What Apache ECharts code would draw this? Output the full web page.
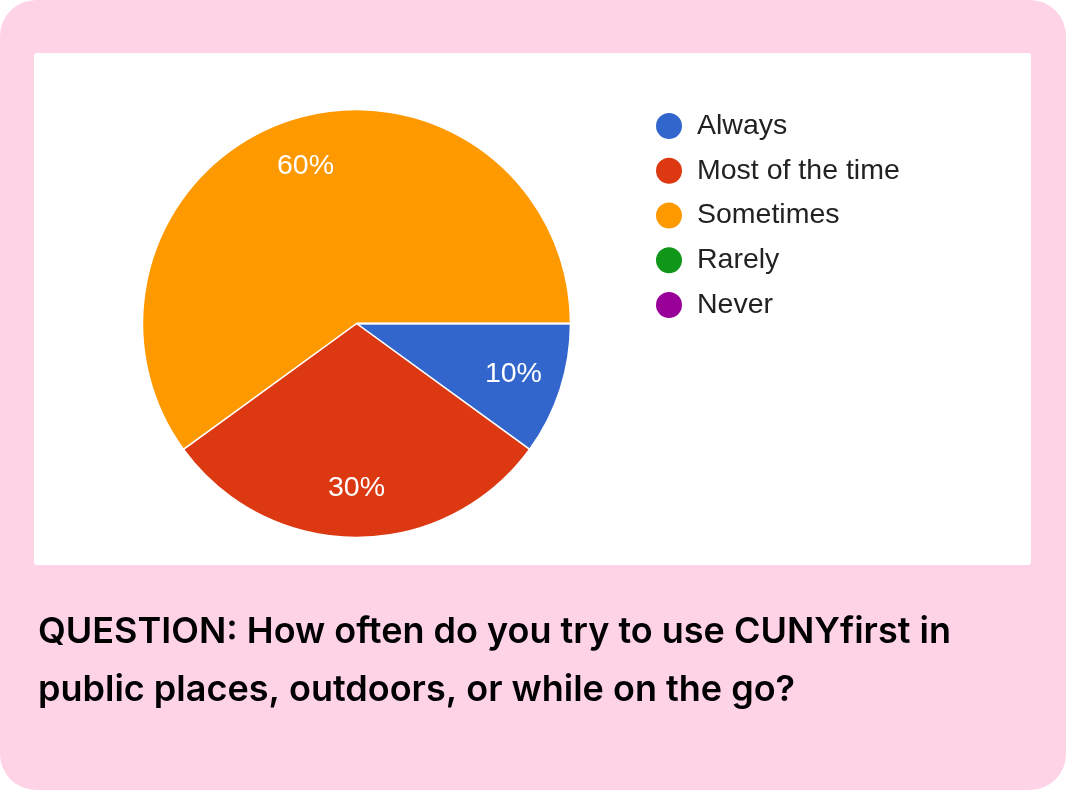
<!DOCTYPE html>
<html>
<head>
<meta charset="utf-8">
<script src="https://cdn.jsdelivr.net/npm/echarts@6/dist/echarts.min.js"></script>
<style>
html,body{margin:0;padding:0;background:#fff;}
#chart{width:1066px;height:790px;}
</style>
</head>
<body>
<div id="chart"></div>
<script>
const categories = ['Always', 'Most of the time', 'Sometimes', 'Rarely', 'Never'];
const shares = [10, 30, 60, 0, 0];
const colors = ['#3366CC', '#DC3912', '#FF9900', '#109618', '#990099'];
const questionLines = [
  'QUESTION: How often do you try to use CUNYfirst in',
  'public places, outdoors, or while on the go?'
];

const pieData = categories.map((name, i) => ({ name: name, value: shares[i], itemStyle: { color: colors[i] } }));
const labelData = categories.map((name, i) => ({ name: name, value: shares[i] }));

const chart = echarts.init(document.getElementById('chart'), null, { renderer: 'canvas' });
chart.setOption({
  animation: false,
  backgroundColor: '#ffffff',
  graphic: [
    { type: 'rect', z: -10, shape: { x: 0, y: 0, width: 1066, height: 790, r: 36 }, style: { fill: '#FFD3E6' } },
    { type: 'rect', z: -9, shape: { x: 34, y: 53, width: 997, height: 512, r: 3 }, style: { fill: '#FFFFFF' } },
    { type: 'text', left: 38, top: 614, style: { text: questionLines[0], fill: '#000000', font: '600 36px Inter' } },
    { type: 'text', left: 38, top: 672, style: { text: questionLines[1], fill: '#000000', font: '600 36px Inter' } }
  ],
  legend: {
    orient: 'vertical',
    left: 654,
    top: 111,
    padding: 0,
    icon: 'circle',
    itemWidth: 28,
    itemHeight: 28,
    itemGap: 14.75,
    selectedMode: false,
    textStyle: { fontFamily: 'Liberation Sans, Arial', fontSize: 28.5, lineHeight: 28, color: '#222222', padding: [0, 0, 0, 9] },
    data: categories.map((name, i) => ({ name: name, itemStyle: { color: colors[i] } }))
  },
  series: [
    {
      type: 'pie',
      center: [356.5, 323.5],
      radius: [0, 214],
      startAngle: 0,
      clockwise: true,
      silent: true,
      label: { show: false },
      labelLine: { show: false },
      itemStyle: { borderColor: '#ffffff', borderWidth: 1.5 },
      data: pieData
    },
    {
      type: 'pie',
      center: [356.5, 323.5],
      radius: [110, 214],
      startAngle: 0,
      clockwise: true,
      silent: true,
      itemStyle: { color: 'rgba(0,0,0,0)' },
      label: {
        show: true,
        position: 'inside',
        color: '#ffffff',
        fontFamily: 'Liberation Sans, Arial',
        fontSize: 28.5,
        formatter: p => (p.value > 0 ? p.percent + '%' : '')
      },
      labelLine: { show: false },
      data: labelData
    }
  ]
});
</script>
</body>
</html>
